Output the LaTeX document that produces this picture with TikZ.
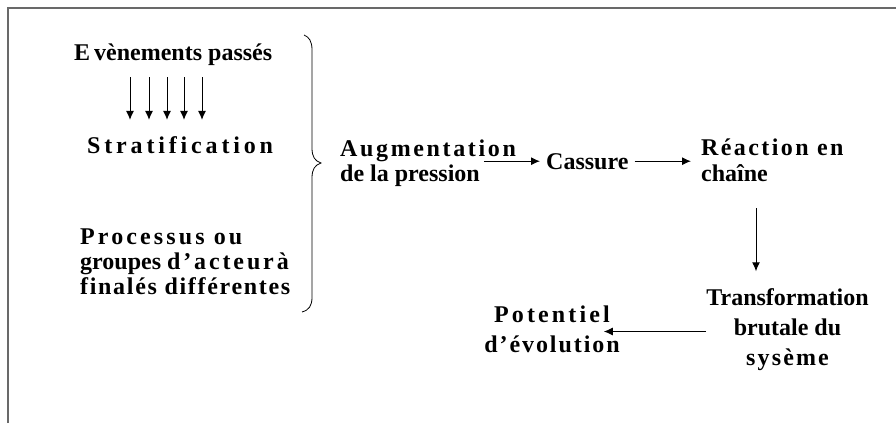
\documentclass[tikz,border=0pt]{standalone}
\usepackage{fontspec}
\setmainfont{Liberation Serif}
\usetikzlibrary{arrows.meta}
\newcommand\ls[2]{{\addfontfeatures{LetterSpace=#1}#2}}
\definecolor{framegray}{RGB}{105,105,105}
\tikzset{
  txt/.style={inner sep=0pt, font=\fontsize{24}{25}\bfseries\selectfont},
  arr/.style={-{Latex[length=9pt,width=8pt]}, line width=1pt},
  framel/.style={draw=framegray, line width=1.6pt},
}
\begin{document}
\begin{tikzpicture}[x=1pt,y=-1pt]
\useasboundingbox (0,0) rectangle (896,423);
\draw[framel] (8,423) -- (8,8) -- (896,8);

\node[txt, anchor=base west] (ev) at (74,60) {E\kern4pt vènements passés};
\node[txt, anchor=base west] (strat) at (87,153) {\ls{16}{Stratification}};
\foreach \x in {130,149,167,184,202}
  \draw[arr] ([yshift=-12pt]ev.south -| \x,0) -- ([yshift=16pt]strat.north -| \x,0);

\node[txt, anchor=west, align=left, font=\fontsize{24}{25}\bfseries\selectfont] (proc) at (80,262)
  {\ls{13}{Processus ou}\\groupes \ls{12}{d’acteurà}\\\ls{7}{finalés différentes}};

\draw[line width=0.8pt] (304,35) .. controls (309,37) and (312,41) .. (312,50)
  -- (312,148) .. controls (312,157) and (315,161) .. (321,163)
  .. controls (315,165) and (312,169) .. (312,178)
  -- (312,297) .. controls (312,306) and (309,310) .. (302,312);

\node[txt, anchor=base west] (aug) at (340,156) {\ls{11}{Augmentation}};
\node[txt, anchor=base west] (augb) at (340,181) {de la pression};
\node[txt, anchor=base west] (cas) at (546,169) {Cassure};
\node[txt, anchor=base west] (rea) at (701,155) {\ls{10}{Réaction en}};
\node[txt, anchor=base west] (rea2) at (701,181) {chaîne};
\node[txt, align=center, font=\fontsize{24}{30}\bfseries\selectfont] (tr) at (787.5,329.5)
  {Transformation\\brutale du\\\ls{9}{sysème}};
\node[txt, align=center, font=\fontsize{24}{30}\bfseries\selectfont] (pot) at (552,329)
  {\ls{13}{Potentiel}\\\ls{8}{d’évolution}};

\draw[arr, shorten <=4pt, shorten >=6pt] (augb.east |- cas.west) -- (cas.west);
\draw[arr, shorten <=6pt, shorten >=10pt] (cas.east) -- (cas.east -| rea.west);
\draw[arr] ([xshift=-31.5pt,yshift=-27pt]rea2.south -| tr.north) -- ([xshift=-31.5pt,yshift=17pt]tr.north);
\draw[arr, shorten >=-16pt] ([yshift=-2pt]tr.west) -- ([yshift=-2pt]tr.west -| pot.east);
\end{tikzpicture}
\end{document}
